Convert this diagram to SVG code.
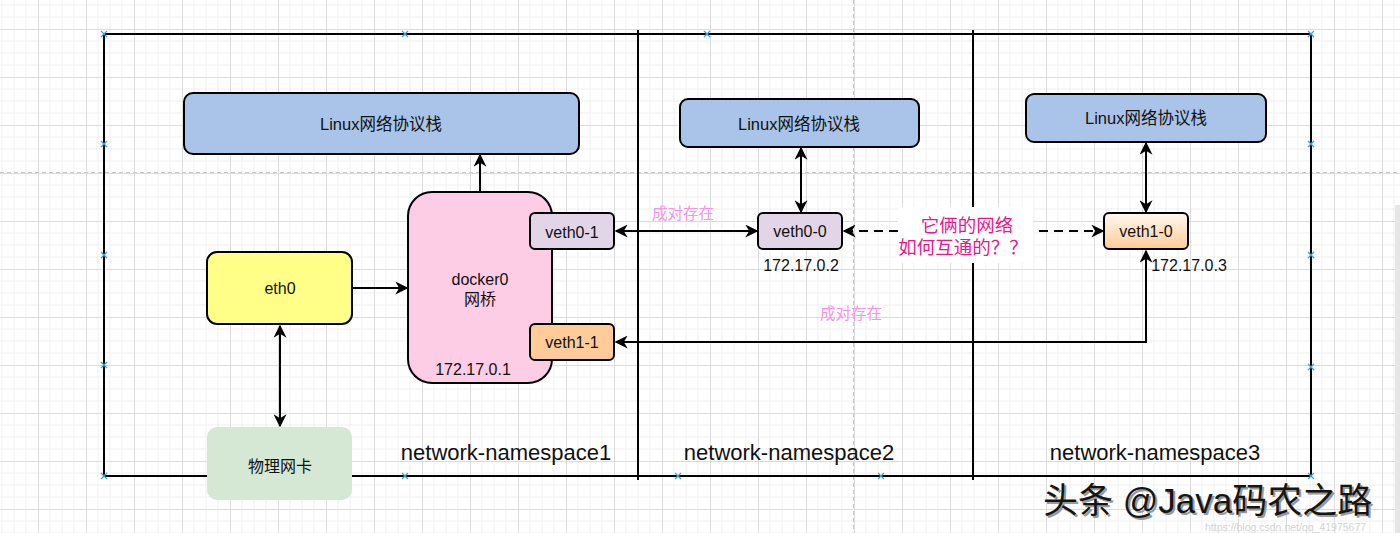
<svg xmlns="http://www.w3.org/2000/svg" width="1400" height="533" viewBox="0 0 1400 533">
<defs>
<pattern id="grid" x="38" y="29" width="48" height="48" patternUnits="userSpaceOnUse">
<path d="M12 0V48M24 0V48M36 0V48M0 12H48M0 24H48M0 36H48" stroke="#efefef" stroke-width="1" fill="none"/>
<path d="M0.5 0V48M0 0.5H48" stroke="#dcdcdc" stroke-width="1" fill="none"/>
</pattern>
<linearGradient id="orangeGrad" x1="0" y1="0" x2="0" y2="1">
<stop offset="0" stop-color="#fff8f0"/>
<stop offset="1" stop-color="#ffcc99"/>
</linearGradient>
<marker id="arrB" viewBox="0 0 10 10" refX="9" refY="5" markerWidth="13" markerHeight="13" orient="auto-start-reverse" markerUnits="userSpaceOnUse">
<path d="M0 0L10 5L0 10L3 5Z" fill="#000"/>
</marker>
<g id="xmark"><path d="M-3 -3L3 3M-3 3L3 -3" stroke="#3aa3e0" stroke-width="1.3"/></g>
</defs>
<style>
text{font-family:"Liberation Sans","Noto Sans CJK SC",sans-serif;fill:#111;}
.box{stroke:#000;stroke-width:2;}
.lbl{font-size:16px;text-anchor:middle;dominant-baseline:central;}
.big{font-size:16.5px;}
.ns{font-size:22px;text-anchor:middle;}
.ip{font-size:16px;text-anchor:middle;}
.pair{font-size:15.5px;fill:#f693ea;}
.q{font-size:18.5px;fill:#e8198c;text-anchor:middle;}
.conn{stroke:#000;stroke-width:2;fill:none;}
.frame{stroke:#000;stroke-width:2;fill:none;}
.guide{stroke:#c8c8c8;stroke-width:1;stroke-dasharray:4 3;fill:none;}
.wm{font-size:35px;}
</style>
<rect width="1400" height="533" fill="#fff"/>
<rect width="1400" height="533" fill="url(#grid)"/>
<path class="guide" d="M0 172.5H1400M853.5 0V533"/>
<rect x="1395" y="205" width="5" height="328" fill="#e6e6e6"/>

<g id="frames">
<rect class="frame" x="104" y="34" width="1207" height="442"/>
<path class="frame" d="M638 30V480M973 30V480"/>
<use href="#xmark" x="104" y="34"/><use href="#xmark" x="405" y="34"/><use href="#xmark" x="707" y="34"/><use href="#xmark" x="1311" y="34"/>
<use href="#xmark" x="104" y="144"/><use href="#xmark" x="104" y="255"/><use href="#xmark" x="104" y="365"/><use href="#xmark" x="104" y="476"/>
<use href="#xmark" x="405" y="476"/><use href="#xmark" x="678" y="476"/><use href="#xmark" x="881" y="476"/><use href="#xmark" x="1311" y="476"/>
<use href="#xmark" x="1311" y="144"/><use href="#xmark" x="1311" y="255"/><use href="#xmark" x="1311" y="367"/>
<text class="ns" x="506" y="460">network-namespace1</text>
<text class="ns" x="789" y="460">network-namespace2</text>
<text class="ns" x="1155" y="460">network-namespace3</text>
</g>

<g id="connectors">
<path class="conn" d="M480 192V155" marker-end="url(#arrB)"/>
<path class="conn" d="M352 288H407" marker-end="url(#arrB)"/>
<path class="conn" d="M280 326V426" marker-start="url(#arrB)" marker-end="url(#arrB)"/>
<path class="conn" d="M616 231H757" marker-start="url(#arrB)" marker-end="url(#arrB)"/>
<path class="conn" d="M801 148V212" marker-start="url(#arrB)" marker-end="url(#arrB)"/>
<path class="conn" d="M1146 143V212" marker-start="url(#arrB)" marker-end="url(#arrB)"/>
<path class="conn" d="M1146 251V342H616" marker-start="url(#arrB)" marker-end="url(#arrB)"/>
<path class="conn" d="M844 231H1103" stroke-dasharray="9 6" marker-start="url(#arrB)" marker-end="url(#arrB)"/>
</g>

<g id="linux1"><rect class="box" x="184" y="93" width="395" height="61" rx="9" fill="#a9c4e8"/><text class="lbl big" x="381" y="124">Linux网络协议栈</text></g>
<g id="linux2"><rect class="box" x="680" y="99" width="239" height="48" rx="8" fill="#a9c4e8"/><text class="lbl big" x="799" y="124">Linux网络协议栈</text></g>
<g id="linux3"><rect class="box" x="1026" y="94" width="240" height="48" rx="8" fill="#a9c4e8"/><text class="lbl big" x="1146" y="118">Linux网络协议栈</text></g>

<g id="docker0"><rect class="box" x="408" y="192" width="144" height="191" rx="24" fill="#fdcce5"/>
<text class="lbl" x="480" y="279">docker0</text><text class="lbl" x="480" y="299">网桥</text>
<text class="ip" x="473" y="375">172.17.0.1</text></g>

<g id="veth0-1"><rect class="box" x="530" y="213" width="84" height="36" rx="5" fill="#e1d5e7"/><text class="lbl" x="572" y="232">veth0-1</text></g>
<g id="veth1-1"><rect class="box" x="530" y="324" width="84" height="36" rx="5" fill="#ffcc99"/><text class="lbl" x="572" y="342">veth1-1</text></g>
<g id="eth0"><rect class="box" x="207" y="252" width="145" height="72" rx="10" fill="#ffff88"/><text class="lbl" x="280" y="288">eth0</text></g>
<g id="nic"><rect x="207" y="427" width="145" height="73" rx="10" fill="#d5e8d4"/><text class="lbl" x="280" y="466">物理网卡</text></g>

<g id="veth0-0"><rect class="box" x="758" y="213" width="84" height="36" rx="5" fill="#e1d5e7"/><text class="lbl" x="800" y="231">veth0-0</text>
<text class="ip" x="801" y="271">172.17.0.2</text></g>
<g id="veth1-0"><rect class="box" x="1104" y="213" width="84" height="36" rx="5" fill="url(#orangeGrad)"/><text class="lbl" x="1146" y="231">veth1-0</text>
<text class="ip" x="1189" y="271">172.17.0.3</text></g>

<g id="labels">
<text class="pair" x="652" y="219">成对存在</text>
<text class="pair" x="820" y="319">成对存在</text>
<rect x="898" y="207" width="135" height="56" fill="#fff"/>
<text class="q" x="967" y="232">它俩的网络</text>
<text class="q" x="963" y="254">如何互通的？？</text>
</g>

<g id="watermark">
<text class="wm" x="1045" y="515" style="fill:#9a9a9a">头条 @Java码农之路</text>
<text class="wm" x="1043" y="513" style="fill:#151515">头条 @Java码农之路</text>
<text x="1205" y="531" font-size="10.5" style="fill:#d4d4d4">https://blog.csdn.net/qq_41975677</text>
</g>
</svg>
